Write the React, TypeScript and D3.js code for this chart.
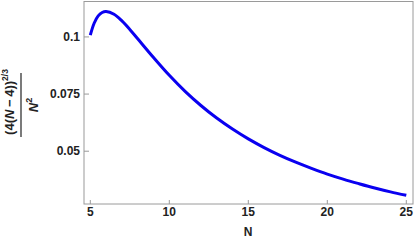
import React from "react";
import * as d3 from "d3";

const nValues = [5, 5.25, 5.5, 5.75, 6, 6.5, 7, 7.5, 8, 9, 10, 11, 12, 13, 14, 15, 16, 17, 18, 19, 20, 21, 22, 23, 24, 25];
const fValues = [0.1008, 0.1061, 0.1092, 0.1107, 0.1111, 0.1099, 0.107, 0.1033, 0.0992, 0.091, 0.0832, 0.0762, 0.07, 0.0645, 0.0597, 0.0554, 0.0516, 0.0482, 0.0452, 0.0425, 0.04, 0.0378, 0.0358, 0.0339, 0.0322, 0.0307];
const xTicks = [5, 10, 15, 20, 25];
const yTicks = [0.05, 0.075, 0.1];
const yTickLabels = ["0.05", "0.075", "0.1"];

const W = 415;
const H = 244;
const left = 84;
const right = 413;
const top = 1.5;
const bottom = 204;

export default function App() {
  const x = d3.scaleLinear().domain([5, 25]).range([90.3, 406.3]);
  const y = d3.scaleLinear().domain([0.0269, 0.1155]).range([bottom, top]);
  const pts = nValues.map((n, i) => [n, fValues[i]] as [number, number]);
  const line = d3
    .line<[number, number]>()
    .x((d) => x(d[0]))
    .y((d) => y(d[1]))
    .curve(d3.curveCatmullRom.alpha(0.5));
  const font = "'Liberation Sans', Arial, sans-serif";
  const axisColor = "#9a9a9a";
  const labelColor = "#222";
  return (
    <svg
      width={W}
      height={H}
      style={{ position: "absolute", left: 0, top: 0, background: "#fff" }}
    >
      <rect x={left} y={top} width={right - left} height={bottom - top} fill="none" stroke={axisColor} strokeWidth={1} />
      {xTicks.map((t) => (
        <g key={"x" + t}>
          <line x1={x(t)} x2={x(t)} y1={bottom} y2={bottom - 4} stroke={axisColor} />
          <text x={x(t)} y={216} textAnchor="middle" fontFamily={font} fontWeight="bold" fontSize={12} fill={labelColor}>
            {t}
          </text>
        </g>
      ))}
      {yTicks.map((t, i) => (
        <g key={"y" + t}>
          <line x1={left} x2={left + 5} y1={y(t)} y2={y(t)} stroke={axisColor} />
          <text x={80} y={y(t) + 4.2} textAnchor="end" fontFamily={font} fontWeight="bold" fontSize={12} fill={labelColor}>
            {yTickLabels[i]}
          </text>
        </g>
      ))}
      <text x={248} y={236} textAnchor="middle" fontFamily={font} fontWeight="bold" fontSize={12} fill={labelColor}>
        N
      </text>
      <g transform="translate(0,105) rotate(-90)">
        <text x={3} y={14} textAnchor="middle" fontFamily={font} fontWeight="bold" fontSize={13} fill={labelColor}>
          (4(<tspan fontStyle="italic">N</tspan>{"\u2009\u2212\u2009"}4))
          <tspan dy={-6} fontSize={8.5}>2/3</tspan>
        </text>
        <line x1={-32} x2={32} y1={21} y2={21} stroke={labelColor} strokeWidth={1.2} />
        <text x={0} y={38} textAnchor="middle" fontFamily={font} fontWeight="bold" fontSize={13} fill={labelColor}>
          <tspan fontStyle="italic">N</tspan>
          <tspan dy={-6} fontSize={9}>2</tspan>
        </text>
      </g>
      <path d={line(pts) || ""} fill="none" stroke="#0a00f0" strokeWidth={3} strokeLinejoin="round" />
    </svg>
  );
}
